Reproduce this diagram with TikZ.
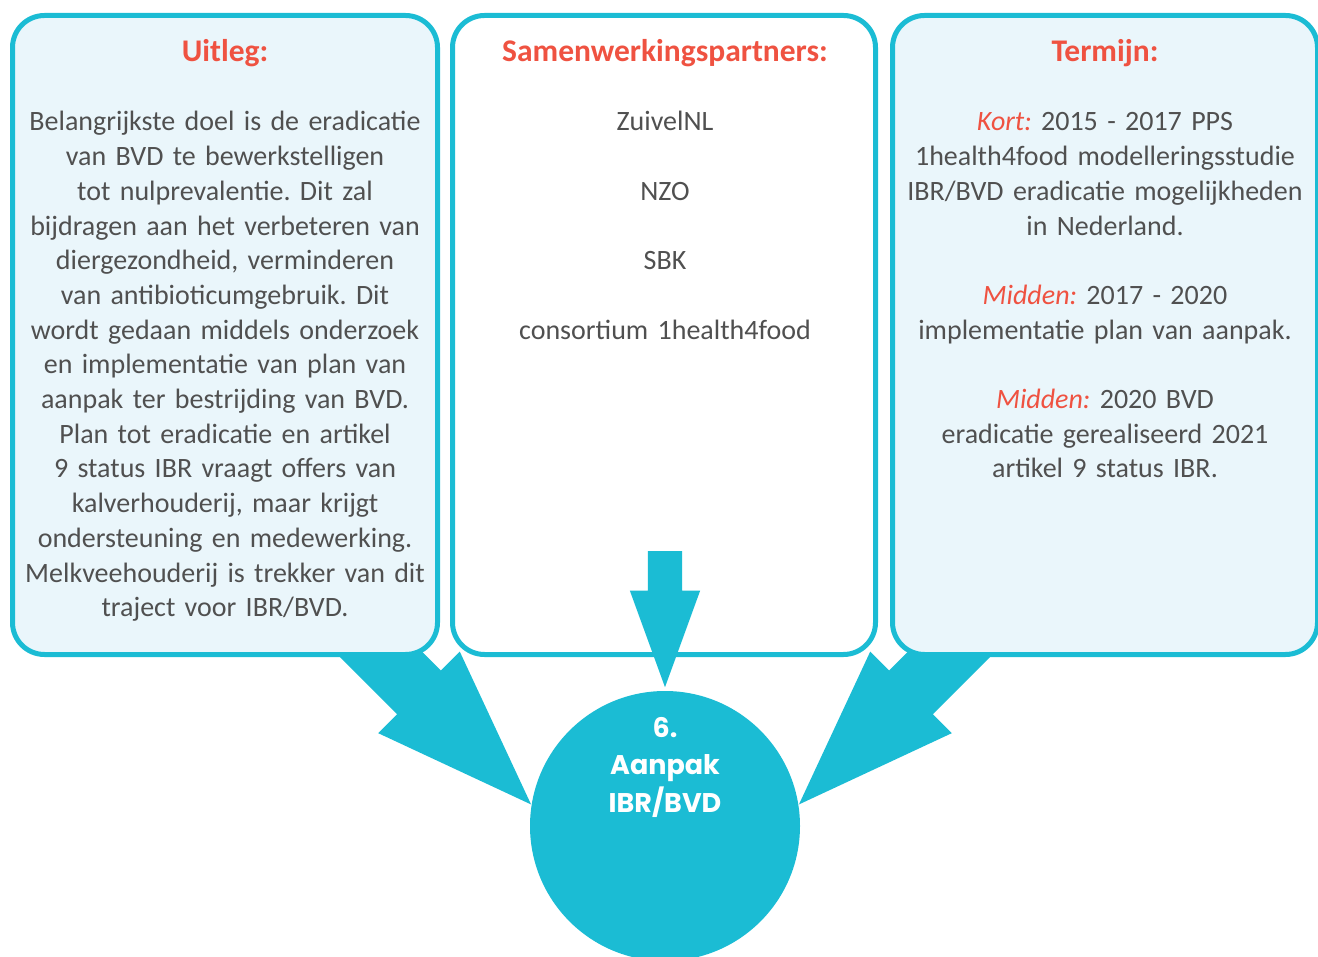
\documentclass[tikz,border=0pt]{standalone}
\usepackage{fontspec}
\setmainfont{Carlito}
\newfontfamily\hubfont{Poppins}
\usetikzlibrary{shapes.geometric, shapes.arrows, positioning}

\definecolor{tealline}{HTML}{1BBCD4}
\definecolor{palefill}{HTML}{EAF6FB}
\definecolor{titlered}{HTML}{EF5241}
\definecolor{bodygray}{HTML}{505050}

\frenchspacing

\begin{document}
\begin{tikzpicture}[
    x=1pt, y=-1pt,
    panel/.style={rectangle, rounded corners=32pt, draw=tealline, line width=5pt, minimum width=425pt, minimum height=639pt, inner sep=0pt},
    title/.style={anchor=base, text=titlered, font=\fontsize{31.5}{36}\selectfont\bfseries},
    body/.style={anchor=base, text=bodygray, text width=425pt, align=center, inner sep=0pt, font=\fontsize{28}{34.7}\selectfont},
    hub/.style={circle, fill=tealline, minimum size=270pt, inner sep=0pt},
    hubtext/.style={anchor=base, text=white, text width=250pt, align=center, inner sep=0pt, font=\hubfont\bfseries\fontsize{27}{37.5}\selectfont},
    bigarrow/.style={single arrow, fill=tealline, inner xsep=0pt, single arrow tip angle=40, anchor=tip}
]
    \useasboundingbox (0,0) rectangle (1318,957);

    \node[hub] (hub) at (665,826) {};

    % side arrows go under the panels
    \node[bigarrow, inner ysep=30.75pt, minimum height=300pt, minimum width=115pt, single arrow head extend=26.75pt, rotate=-45] (leftarrow) at (hub.171) {};
    \node[bigarrow, inner ysep=30.75pt, minimum height=300pt, minimum width=115pt, single arrow head extend=26.75pt, rotate=-135] (rightarrow) at (hub.9) {};

    \node[panel, fill=palefill] (uitleg) at (225,335) {};
    \node[panel, fill=white, minimum width=423pt] (partners) at (664,335) {};
    \node[panel, fill=palefill] (termijn) at (1105,335) {};

    \node[bigarrow, inner ysep=17pt, minimum height=136pt, minimum width=70pt, single arrow head extend=18pt, rotate=-90] (midarrow) at ([yshift=3pt]hub.north) {};

    \node[title] (uitlegtitle) at (225,62) {Uitleg:};
    \node[title] (partnerstitle) at (665,62) {Samenwerkingspartners:};
    \node[title] (termijntitle) at (1105,62) {Termijn:};

    \node[body] (uitlegtext) at (225,131) {Belangrijkste doel is de eradicatie\\
        van BVD te bewerkstelligen\\
        tot nulprevalentie. Dit zal\\
        bijdragen aan het verbeteren van\\
        diergezondheid, verminderen\\
        van antibioticumgebruik. Dit\\
        wordt gedaan middels onderzoek\\
        en implementatie van plan van\\
        aanpak ter bestrijding van BVD.\\
        Plan tot eradicatie en artikel\\
        9 status IBR vraagt offers van\\
        kalverhouderij, maar krijgt\\
        ondersteuning en medewerking.\\
        Melkveehouderij is trekker van dit\\
        traject voor IBR/BVD.};

    \node[body] (partnerstext) at (665,131) {ZuivelNL\\[34.7pt]
        NZO\\[34.7pt]
        SBK\\[34.7pt]
        consortium 1health4food};

    \node[body] (termijntext) at (1105,131) {{\color{titlered}\itshape Kort:} 2015 - 2017 PPS\\
        1health4food modelleringsstudie\\
        IBR/BVD eradicatie mogelijkheden\\
        in Nederland.\\[34.7pt]
        {\color{titlered}\itshape Midden:} 2017 - 2020\\
        implementatie plan van aanpak.\\[34.7pt]
        {\color{titlered}\itshape Midden:} 2020 BVD\\
        eradicatie gerealiseerd 2021\\
        artikel 9 status IBR.};

    \node[hubtext] (hublabel) at (665,737) {6.\\Aanpak\\IBR/BVD};
\end{tikzpicture}
\end{document}
